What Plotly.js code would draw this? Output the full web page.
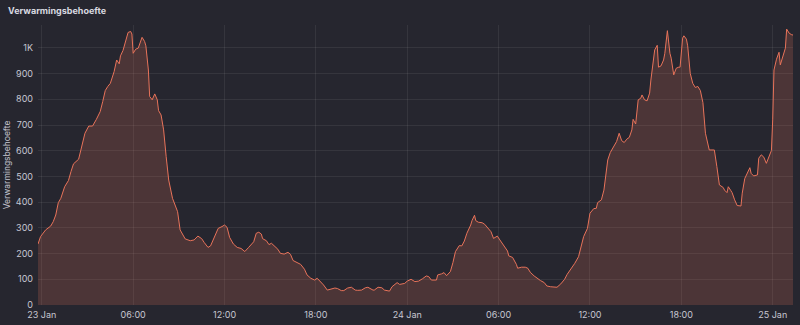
<!DOCTYPE html>
<html>
<head>
<meta charset="utf-8">
<script src="https://cdn.plot.ly/plotly-3.0.1.min.js"></script>
<style>
html,body{margin:0;padding:0;background:#26262f;}
#chart{width:800px;height:325px;}
</style>
</head>
<body>
<div id="chart"></div>
<script>
const chartTitle = "Verwarmingsbehoefte";
const yTitle = "Verwarmingsbehoefte";

const times = [
"2024-01-22 23:45","2024-01-22 23:55","2024-01-23 00:15","2024-01-23 00:35","2024-01-23 00:45","2024-01-23 00:55",
"2024-01-23 01:05","2024-01-23 01:15","2024-01-23 01:30","2024-01-23 01:45","2024-01-23 01:55","2024-01-23 02:05",
"2024-01-23 02:25","2024-01-23 02:35","2024-01-23 02:50","2024-01-23 03:05","2024-01-23 03:20","2024-01-23 03:35",
"2024-01-23 03:50","2024-01-23 04:00","2024-01-23 04:10","2024-01-23 04:20","2024-01-23 04:30","2024-01-23 04:45",
"2024-01-23 04:55","2024-01-23 05:05","2024-01-23 05:10","2024-01-23 05:20","2024-01-23 05:30","2024-01-23 05:40",
"2024-01-23 05:50","2024-01-23 05:55","2024-01-23 06:00","2024-01-23 06:10","2024-01-23 06:20","2024-01-23 06:30",
"2024-01-23 06:35","2024-01-23 06:45","2024-01-23 06:50","2024-01-23 07:00","2024-01-23 07:05","2024-01-23 07:15",
"2024-01-23 07:25","2024-01-23 07:35","2024-01-23 07:40","2024-01-23 07:50","2024-01-23 08:00","2024-01-23 08:10",
"2024-01-23 08:20","2024-01-23 08:35","2024-01-23 08:55","2024-01-23 09:05","2024-01-23 09:15","2024-01-23 09:25",
"2024-01-23 09:45","2024-01-23 10:00","2024-01-23 10:15","2024-01-23 10:30","2024-01-23 10:40","2024-01-23 10:55",
"2024-01-23 11:05","2024-01-23 11:15","2024-01-23 11:25","2024-01-23 11:35","2024-01-23 11:50","2024-01-23 12:00",
"2024-01-23 12:10","2024-01-23 12:20","2024-01-23 12:35","2024-01-23 12:50","2024-01-23 13:05","2024-01-23 13:20",
"2024-01-23 13:35","2024-01-23 13:55","2024-01-23 14:05","2024-01-23 14:15","2024-01-23 14:25","2024-01-23 14:30",
"2024-01-23 14:45","2024-01-23 14:55","2024-01-23 15:05","2024-01-23 15:15","2024-01-23 15:30","2024-01-23 15:40",
"2024-01-23 15:55","2024-01-23 16:10","2024-01-23 16:20","2024-01-23 16:30","2024-01-23 16:45","2024-01-23 17:00",
"2024-01-23 17:15","2024-01-23 17:25","2024-01-23 17:40","2024-01-23 17:55","2024-01-23 18:05","2024-01-23 18:15",
"2024-01-23 18:30","2024-01-23 18:45","2024-01-23 19:00","2024-01-23 19:15","2024-01-23 19:25","2024-01-23 19:40",
"2024-01-23 19:50","2024-01-23 20:05","2024-01-23 20:20","2024-01-23 20:35","2024-01-23 20:45","2024-01-23 21:00",
"2024-01-23 21:15","2024-01-23 21:25","2024-01-23 21:45","2024-01-23 21:50","2024-01-23 22:05","2024-01-23 22:20",
"2024-01-23 22:30","2024-01-23 22:50","2024-01-23 23:00","2024-01-23 23:20","2024-01-23 23:30","2024-01-23 23:50",
"2024-01-24 00:00","2024-01-24 00:15","2024-01-24 00:30","2024-01-24 00:45","2024-01-24 01:00","2024-01-24 01:15",
"2024-01-24 01:25","2024-01-24 01:35","2024-01-24 01:55","2024-01-24 02:00","2024-01-24 02:15","2024-01-24 02:25",
"2024-01-24 02:35","2024-01-24 02:50","2024-01-24 03:00","2024-01-24 03:10","2024-01-24 03:25","2024-01-24 03:35",
"2024-01-24 03:45","2024-01-24 03:55","2024-01-24 04:10","2024-01-24 04:15","2024-01-24 04:25","2024-01-24 04:30",
"2024-01-24 04:40","2024-01-24 04:55","2024-01-24 05:05","2024-01-24 05:20","2024-01-24 05:30","2024-01-24 05:40",
"2024-01-24 05:50","2024-01-24 05:55","2024-01-24 06:05","2024-01-24 06:20","2024-01-24 06:35","2024-01-24 06:40",
"2024-01-24 06:55","2024-01-24 07:10","2024-01-24 07:15","2024-01-24 07:30","2024-01-24 07:45","2024-01-24 07:55",
"2024-01-24 08:05","2024-01-24 08:20","2024-01-24 08:35","2024-01-24 08:45","2024-01-24 09:00","2024-01-24 09:10",
"2024-01-24 09:25","2024-01-24 09:40","2024-01-24 09:50","2024-01-24 10:05","2024-01-24 10:20","2024-01-24 10:30",
"2024-01-24 10:45","2024-01-24 11:00","2024-01-24 11:15","2024-01-24 11:25","2024-01-24 11:35","2024-01-24 11:50",
"2024-01-24 12:00","2024-01-24 12:15","2024-01-24 12:25","2024-01-24 12:30","2024-01-24 12:45","2024-01-24 12:55",
"2024-01-24 13:05","2024-01-24 13:10","2024-01-24 13:20","2024-01-24 13:35","2024-01-24 13:45","2024-01-24 13:55",
"2024-01-24 14:05","2024-01-24 14:15","2024-01-24 14:25","2024-01-24 14:35","2024-01-24 14:45","2024-01-24 14:50",
"2024-01-24 15:00","2024-01-24 15:10","2024-01-24 15:20","2024-01-24 15:25","2024-01-24 15:35","2024-01-24 15:45",
"2024-01-24 15:55","2024-01-24 16:00","2024-01-24 16:10","2024-01-24 16:15","2024-01-24 16:25","2024-01-24 16:30",
"2024-01-24 16:40","2024-01-24 16:50","2024-01-24 16:55","2024-01-24 17:05","2024-01-24 17:15","2024-01-24 17:20",
"2024-01-24 17:30","2024-01-24 17:40","2024-01-24 17:50","2024-01-24 17:55","2024-01-24 18:05","2024-01-24 18:10",
"2024-01-24 18:20","2024-01-24 18:25","2024-01-24 18:35","2024-01-24 18:45","2024-01-24 18:55","2024-01-24 19:05",
"2024-01-24 19:15","2024-01-24 19:25","2024-01-24 19:35","2024-01-24 19:45","2024-01-24 19:50","2024-01-24 20:05",
"2024-01-24 20:10","2024-01-24 20:20","2024-01-24 20:30","2024-01-24 20:45","2024-01-24 20:50","2024-01-24 21:00",
"2024-01-24 21:05","2024-01-24 21:15","2024-01-24 21:20","2024-01-24 21:30","2024-01-24 21:40","2024-01-24 21:55",
"2024-01-24 22:00","2024-01-24 22:10","2024-01-24 22:20","2024-01-24 22:30","2024-01-24 22:35","2024-01-24 22:45",
"2024-01-24 23:00","2024-01-24 23:05","2024-01-24 23:15","2024-01-24 23:25","2024-01-24 23:35","2024-01-24 23:45",
"2024-01-24 23:55","2024-01-25 00:00","2024-01-25 00:05","2024-01-25 00:15","2024-01-25 00:25","2024-01-25 00:30",
"2024-01-25 00:40","2024-01-25 00:50","2024-01-25 00:55","2024-01-25 01:05","2024-01-25 01:15","2024-01-25 01:20"
];

const values = [
237,266,292,307,324,350,
398,415,460,484,519,549,
567,603,668,696,696,722,
752,791,834,850,862,908,
953,938,969,990,1025,1060,
1064,1054,979,995,999,1031,
1041,1025,1008,914,811,798,
821,798,756,739,681,577,
486,415,363,292,272,257,
250,253,268,258,243,224,
230,253,272,298,305,311,
302,263,237,224,220,208,
224,246,279,283,276,258,
250,235,240,231,217,201,
198,205,197,173,165,158,
139,117,104,97,104,95,
78,58,61,66,64,56,
56,66,69,58,57,58,
67,69,58,58,69,67,
58,54,71,87,80,84,
93,100,91,93,102,113,
110,97,97,117,121,126,
114,130,165,208,231,230,
249,279,311,328,349,328,
322,320,314,298,285,259,
263,268,253,233,210,191,
185,158,143,147,147,143,
127,113,100,95,87,74,
71,69,69,82,100,119,
139,162,188,223,266,298,
357,375,376,398,409,447,
538,564,593,619,636,668,
639,632,645,652,681,722,
704,798,804,817,798,794,
824,875,956,992,1010,925,
930,953,979,1067,979,960,
895,921,925,925,1038,1047,
1034,1008,901,862,846,850,
834,787,668,623,603,603,
603,538,467,457,447,437,
460,445,437,409,387,385,
435,492,510,534,512,502,
506,571,584,575,551,575,
601,720,914,956,983,934,
966,999,1073,1057,1051,1050
];

const xTickVals = ["2024-01-23 00:00","2024-01-23 06:00","2024-01-23 12:00","2024-01-23 18:00","2024-01-24 00:00","2024-01-24 06:00","2024-01-24 12:00","2024-01-24 18:00","2024-01-25 00:00"];
const xTickText = ["23 Jan","06:00","12:00","18:00","24 Jan","06:00","12:00","18:00","25 Jan"];
const yTickVals = [0,100,200,300,400,500,600,700,800,900,1000];
const yTickText = ["0","100","200","300","400","500","600","700","800","900","1K"];
const xRange = ["2024-01-22 23:45","2024-01-25 01:20"];
const yRange = [0, 1089];

const trace = {
  x: times, y: values, type: "scatter", mode: "lines",
  line: {color: "#e8735a", width: 1},
  fill: "tozeroy", fillcolor: "rgba(232,115,90,0.2)",
  hoverinfo: "skip"
};

const layout = {
  width: 800, height: 325,
  paper_bgcolor: "#26262f", plot_bgcolor: "#26262f",
  margin: {l: 38, r: 7, t: 25, b: 20},
  showlegend: false,
  font: {family: "Inter, 'Open Sans', sans-serif", color: "#c7c7d2", size: 9},
  title: {text: "<b>" + chartTitle + "</b>", x: 8 / 800, xanchor: "left", xref: "container", y: 0.968, yanchor: "middle",
          font: {size: 9, color: "#d8d9e0", family: "Inter, sans-serif"}},
  xaxis: {
    type: "date", range: xRange, tickmode: "array", tickvals: xTickVals, ticktext: xTickText,
    showgrid: true, gridcolor: "rgba(255,255,255,0.07)", gridwidth: 1,
    zeroline: false, showline: false, ticks: "", ticklen: 0, ticklabelstandoff: 3,
    tickfont: {size: 9, color: "#c7c7d2"}, fixedrange: true
  },
  yaxis: {
    range: yRange, tickmode: "array", tickvals: yTickVals, ticktext: yTickText,
    showgrid: true, gridcolor: "rgba(255,255,255,0.07)", gridwidth: 1,
    zeroline: false, showline: false, ticks: "", ticklabelstandoff: 4,
    tickfont: {size: 9, color: "#c7c7d2"},
    title: {text: yTitle, font: {size: 8.5, color: "#c7c7d2"}, standoff: 3},
    fixedrange: true
  }
};

Plotly.newPlot("chart", [trace], layout, {displayModeBar: false, staticPlot: true});
</script>
</body>
</html>
